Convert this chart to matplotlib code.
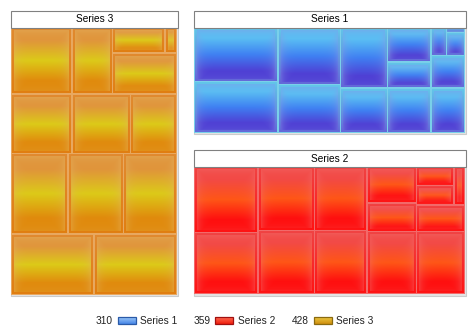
import numpy as np
import matplotlib
matplotlib.use("Agg")
import matplotlib.pyplot as plt
from matplotlib.patches import Rectangle
from matplotlib.colors import to_rgb

plt.rcParams["font.family"] = ["Liberation Sans", "DejaVu Sans"]

# ---- data -------------------------------------------------------------
series_names = ["Series 1", "Series 2", "Series 3"]
series1_values = [49.4, 46.3, 38.7, 32.4, 31.6, 23.3, 21.1, 16.4, 16.4, 12.2, 11.8, 4.8, 4.6, 1.0]
series2_values = [44.1, 40.3, 37.9, 37.3, 35.0, 34.9, 31.9, 31.3, 18.8, 14.7, 13.5, 7.6, 7.5, 4.2]
series3_values = [48.7, 48.5, 44.3, 43.1, 41.3, 39.1, 35.2, 33.7, 26.9, 26.1, 25.3, 12.9, 2.9]
series_values = [series1_values, series2_values, series3_values]

# ---- styling ----------------------------------------------------------
W, H = 475, 334
HEADER_H = 17
# panel boxes in pixel units: left, top, right, bottom
panel_boxes = {
    "Series 3": (10.5, 10.5, 178.0, 296.0),
    "Series 1": (193.5, 10.5, 466.0, 134.0),
    "Series 2": (193.5, 149.5, 466.0, 295.5),
}
palettes = {
    "Series 1": dict(top="#58c0f4", mid="#3f80f2", bot="#4e3ed4", glow="#8a9ae4",
                     ftop="#62c8ea", fbot="#6464d8", edge="#7ad0ea",
                     sw_top="#9cc8f8", sw_bot="#4a88e8", sw_edge="#2a5aa8"),
    "Series 2": dict(top="#f24844", mid="#ff5616", bot="#ff0e0e", glow="#f27070",
                     ftop="#f04444", fbot="#ff1212", edge="#f26a6a",
                     sw_top="#ff6a50", sw_bot="#f02010", sw_edge="#a01010"),
    "Series 3": dict(top="#e0943a", mid="#dcca18", bot="#e08a0c", glow="#e4b464",
                     ftop="#e08a30", fbot="#e07e10", edge="#e8a860",
                     sw_top="#ecc840", sw_bot="#d09010", sw_edge="#8a6a10"),
}


def squarify(values, x, y, w, h):
    """Squarified treemap: columns on the left of wide areas,
    rows along the bottom of tall areas."""
    vals = sorted(values, reverse=True)
    total = float(sum(vals))
    areas = [v / total * w * h for v in vals]

    def worst(row, side):
        s = sum(row)
        return max(max(side * side * r / (s * s), s * s / (side * side * r)) for r in row)

    rects = []
    i = 0
    while i < len(areas):
        wide = w >= h
        side = h if wide else w
        row = [areas[i]]
        i += 1
        while i < len(areas) and worst(row + [areas[i]], side) <= worst(row, side):
            row.append(areas[i])
            i += 1
        thick = sum(row) / side
        if wide:
            cy = y
            for a in row:
                hh = a / thick
                rects.append((x, cy, thick, hh))
                cy += hh
            x += thick
            w -= thick
        else:
            cx = x
            for a in row:
                ww = a / thick
                rects.append((cx, y + h - thick, ww, thick))
                cx += ww
            h -= thick
    return rects


def lerp_profile(v, stops, colors):
    cols = np.array([to_rgb(c) for c in colors])
    return np.stack([np.interp(v, stops, cols[:, k]) for k in range(3)], axis=-1)


def cell_image(w, h, pal):
    nx = max(2, int(round(w)))
    ny = max(2, int(round(h)))
    xs = (np.arange(nx) + 0.5) * w / nx
    ys = (np.arange(ny) + 0.5) * h / ny
    X, Y = np.meshgrid(xs, ys)
    dl, dr, dt, db = X, w - X, Y, h - Y
    d = np.minimum(np.minimum(dl, dr), np.minimum(dt, db))
    v = Y / h
    base = lerp_profile(v, [0, 0.2, 0.5, 0.8, 1],
                        [pal["top"], pal["top"], pal["mid"], pal["bot"], pal["bot"]])
    L = 4.5
    gx = np.exp(-np.clip(np.minimum(dl, dr) - 3, 0, None) / L)
    gt = np.exp(-np.clip(dt - 3, 0, None) / L)
    gb = 0.35 * np.exp(-np.clip(db - 3, 0, None) / L)
    g = np.clip(np.maximum(np.maximum(gx, gt), gb) * 0.45, 0, 0.5)[..., None]
    col = base * (1 - g) + np.array(to_rgb(pal["glow"])) * g
    frame = lerp_profile(v, [0, 1], [pal["ftop"], pal["fbot"]])
    col = np.where((d < 3)[..., None], frame, col)
    col = np.where((d < 1)[..., None], np.array(to_rgb(pal["edge"])), col)
    return col


fig = plt.figure(figsize=(W / 100, H / 100), dpi=100)
ax = fig.add_axes([0, 0, 1, 1])
ax.set_xlim(0, W)
ax.set_ylim(H, 0)
ax.axis("off")

for name, vals in zip(series_names, series_values):
    x0, y0, x1, y1 = panel_boxes[name]
    pal = palettes[name]
    # header
    ax.add_patch(Rectangle((x0, y0), x1 - x0, HEADER_H, facecolor="white",
                           edgecolor="#808080", lw=0.8, zorder=3))
    ax.text((x0 + x1) / 2, y0 + HEADER_H / 2 + 0.5, name, ha="center", va="center",
            fontsize=7.3, color="#000000", zorder=4)
    # content frame
    cy0 = y0 + HEADER_H
    ax.add_patch(Rectangle((x0, cy0), x1 - x0, y1 - cy0, facecolor="#e4e4e4",
                           edgecolor="#cccccc", lw=0.8, zorder=1))
    for (rx, ry, rw, rh) in squarify(vals, x0 + 0.5, cy0, (x1 - 1.5) - (x0 + 0.5), (y1 - 1.0) - cy0):
        img = cell_image(rw, rh, pal)
        ax.imshow(img, extent=(rx, rx + rw, ry + rh, ry), origin="upper",
                  interpolation="bilinear", aspect="auto", zorder=2)

# legend
legend_x = [117.5, 215.0, 313.5]
ly = 320.5
for name, vals, sx in zip(series_names, series_values, legend_x):
    pal = palettes[name]
    sw, sh = 18, 7
    grad = lerp_profile(np.linspace(0, 1, 8)[:, None] * np.ones((1, 4)), [0, 1],
                        [pal["sw_top"], pal["sw_bot"]])
    ax.imshow(grad, extent=(sx, sx + sw, ly + sh / 2, ly - sh / 2), origin="upper",
              interpolation="bilinear", aspect="auto", zorder=2)
    ax.add_patch(Rectangle((sx, ly - sh / 2), sw, sh, facecolor="none",
                           edgecolor=pal["sw_edge"], lw=0.9, zorder=3))
    ax.text(sx - 4.5, ly, f"{sum(vals):.0f}", ha="right", va="center",
            fontsize=7.3, color="#222222")
    ax.text(sx + sw + 5, ly, name, ha="left", va="center", fontsize=7.3, color="#222222")

ax.set_xlim(0, W)
ax.set_ylim(H, 0)
fig.savefig("out.png", dpi=100)
